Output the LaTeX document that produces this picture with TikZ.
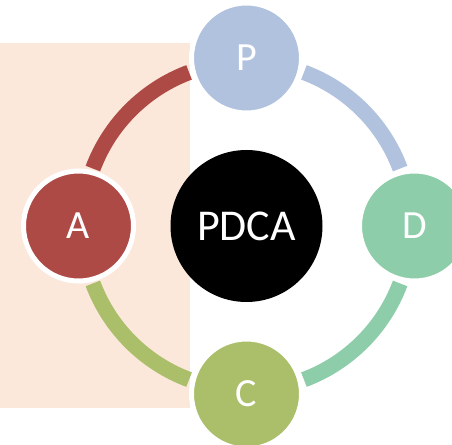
\documentclass[tikz,border=0pt]{standalone}
\usepackage{fontspec}
\setmainfont{Carlito}
\usetikzlibrary{calc,backgrounds}
\definecolor{peach}{HTML}{FBE8DB}
\definecolor{pcol}{HTML}{B1C2DE}
\definecolor{dcol}{HTML}{8DCDA9}
\definecolor{ccol}{HTML}{ABBF6A}
\definecolor{acol}{HTML}{AE4A46}
\tikzset{
  stage/.style={circle, draw=white, line width=5pt, minimum size=110pt, inner sep=0pt,
    text=white, font=\fontsize{40}{48}\selectfont},
  ring/.style={line width=15.5pt, line cap=butt},
}
\begin{document}
\begin{tikzpicture}[x=1pt,y=1pt]
\useasboundingbox (0,0) rectangle (452,444);
\coordinate (O) at (246.5,218);
\node[circle, fill=black, minimum size=152pt, inner sep=0pt, text=white,
  font=\fontsize{44}{52}\selectfont] (center) at (O) {PDCA};
\node[stage, fill=pcol] (P) at ($(O)+(90:168)$) {P};
\node[stage, fill=dcol] (D) at ($(O)+(0:168)$) {D};
\node[stage, fill=ccol] (C) at ($(O)+(270:168)$) {C};
\node[stage, fill=acol] (A) at ($(O)+(180:168)$) {A};
\begin{scope}[on background layer]
  \fill[peach] (0,36) rectangle (190,401);
  \draw[ring, pcol] ($(O)+(69.5:164)$) arc[start angle=69.5, end angle=20.5, radius=164];
  \draw[ring, dcol] ($(O)+(-20.5:164)$) arc[start angle=-20.5, end angle=-69.5, radius=164];
  \draw[ring, ccol] ($(O)+(-110.5:164)$) arc[start angle=-110.5, end angle=-159.5, radius=164];
  \draw[ring, acol] ($(O)+(159.5:164)$) arc[start angle=159.5, end angle=110.5, radius=164];
\end{scope}
\end{tikzpicture}
\end{document}
